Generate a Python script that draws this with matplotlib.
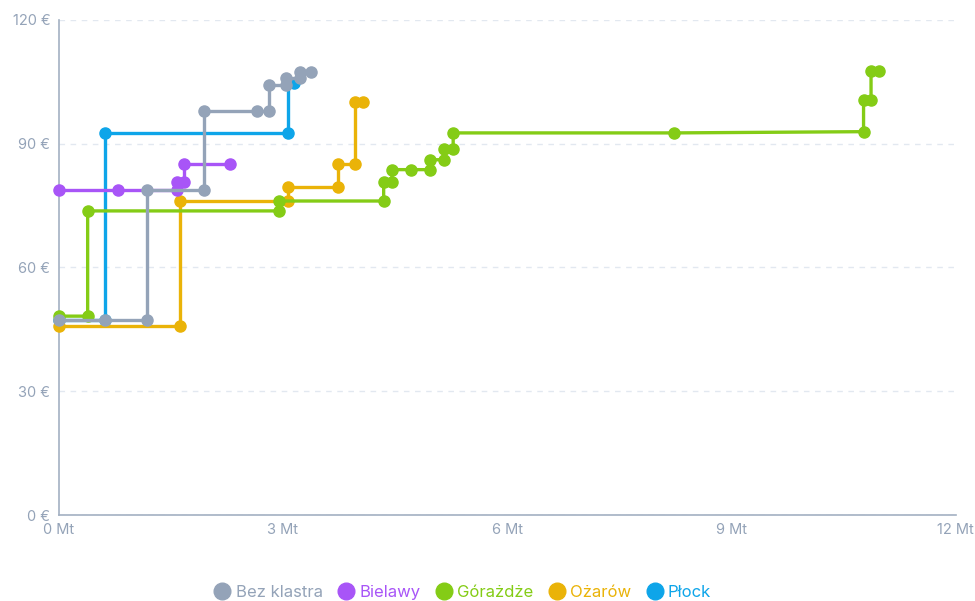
import matplotlib.pyplot as plt
from matplotlib.lines import Line2D

plt.rcParams["font.family"] = ["Inter", "DejaVu Sans"]

# cumulative capacity (Mt) and price (EUR) for each cluster, as step points
series_names = ["Bez klastra", "Bielawy", "Górażdże", "Ożarów", "Płock"]
series_colors = ["#94a3b8", "#a855f7", "#84cc16", "#eab308", "#0ea5e9"]

bez_x = [0, 0.62, 1.19, 1.19, 1.95, 1.95, 2.65, 2.82, 2.82, 3.04, 3.04, 3.23, 3.23, 3.38]
bez_y = [47.3, 47.3, 47.3, 78.8, 78.8, 97.8, 97.8, 97.8, 104.2, 104.2, 105.8, 105.8, 107.4, 107.4]

bielawy_x = [0, 0.80, 1.58, 1.58, 1.68, 1.68, 2.29]
bielawy_y = [78.8, 78.8, 78.8, 80.8, 80.8, 85.0, 85.0]

gorazdze_x = [0, 0.39, 0.39, 2.95, 2.95, 4.35, 4.35, 4.46, 4.46, 4.71, 4.97, 4.97,
              5.16, 5.16, 5.28, 5.28, 8.24, 10.77, 10.77, 10.87, 10.87, 10.98]
gorazdze_y = [48.2, 48.2, 73.7, 73.7, 76.1, 76.1, 80.8, 80.8, 83.7, 83.7, 83.7, 86.1,
              86.1, 88.7, 88.7, 92.6, 92.6, 92.9, 100.6, 100.6, 107.5, 107.5]

ozarow_x = [0, 1.63, 1.63, 3.07, 3.07, 3.74, 3.74, 3.97, 3.97, 4.08]
ozarow_y = [45.8, 45.8, 76.1, 76.1, 79.4, 79.4, 85.1, 85.1, 100.0, 100.0]

plock_x = [0, 0.62, 0.62, 3.07, 3.07, 3.15]
plock_y = [47.3, 47.3, 92.6, 92.6, 104.7, 104.7]

xs = [bez_x, bielawy_x, gorazdze_x, ozarow_x, plock_x]
ys = [bez_y, bielawy_y, gorazdze_y, ozarow_y, plock_y]

x_ticks = [0, 3, 6, 9, 12]
y_ticks = [0, 30, 60, 90, 120]

fig = plt.figure(figsize=(9.75, 6.01), dpi=100)
ax = fig.add_axes([0.06, 0.143, 0.92, 0.824])

n = len(series_names)
for i, (name, color, x, y) in enumerate(zip(series_names, series_colors, xs, ys)):
    ax.plot(x, y, color=color, linewidth=2.4, marker="o", markersize=8,
            solid_capstyle="round", zorder=3 + (n - i), clip_on=False)

ax.set_xlim(0, 12)
ax.set_ylim(0, 120)
ax.set_xticks(x_ticks)
ax.set_xticklabels([f"{t} Mt" for t in x_ticks])
ax.set_yticks(y_ticks)
ax.set_yticklabels([f"{t} €" for t in y_ticks])
ax.tick_params(length=0, colors="#94a3b8", labelsize=10.5, pad=6)

for s in ["top", "right"]:
    ax.spines[s].set_visible(False)
for s in ["left", "bottom"]:
    ax.spines[s].set_color("#a3b0c2")
    ax.spines[s].set_linewidth(1.2)

ax.yaxis.grid(True, color="#e2e8f0", linestyle=(0, (4, 4)), linewidth=1)
ax.set_axisbelow(True)

handles = [Line2D([], [], linestyle="none", marker="o", markersize=12,
                  color=c) for c in series_colors]
leg = fig.legend(handles, series_names, loc="center", bbox_to_anchor=(0.474, 0.014),
                 ncol=5, frameon=False, fontsize=12, handletextpad=0.25,
                 columnspacing=0.85, handlelength=1.1)
for t, c in zip(leg.get_texts(), series_colors):
    t.set_color(c)

fig.savefig("out.png", dpi=100)
